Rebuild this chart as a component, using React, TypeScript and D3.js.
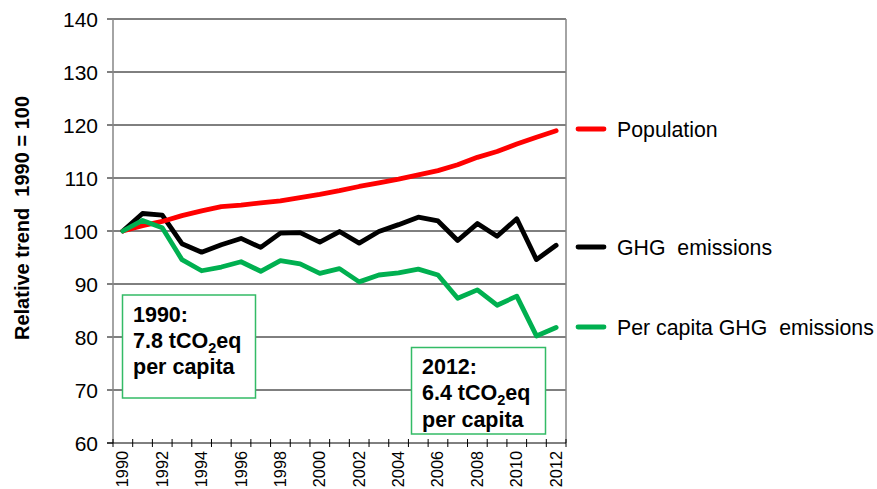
import React from "react";
import * as d3 from "d3";

const years = ["1990","1991","1992","1993","1994","1995","1996","1997","1998","1999","2000","2001","2002","2003","2004","2005","2006","2007","2008","2009","2010","2011","2012"];
const yearLabels = ["1990","","1992","","1994","","1996","","1998","","2000","","2002","","2004","","2006","","2008","","2010","","2012"];
const population = [100, 101.0, 101.8, 102.9, 103.8, 104.6, 104.9, 105.3, 105.7, 106.3, 106.9, 107.6, 108.4, 109.1, 109.8, 110.6, 111.4, 112.5, 113.9, 115.0, 116.4, 117.7, 118.9];
const ghg = [100, 103.3, 103.0, 97.6, 96.0, 97.4, 98.6, 96.9, 99.6, 99.7, 97.9, 99.9, 97.7, 99.9, 101.2, 102.6, 101.9, 98.2, 101.4, 99.0, 102.3, 94.6, 97.3];
const perCapita = [100, 102.0, 100.6, 94.6, 92.5, 93.2, 94.2, 92.4, 94.4, 93.8, 92.0, 92.9, 90.4, 91.7, 92.1, 92.8, 91.7, 87.3, 88.9, 86.0, 87.7, 80.2, 81.8];
const yTicks = [60, 70, 80, 90, 100, 110, 120, 130, 140];
const seriesNames = ["Population", "GHG  emissions", "Per capita GHG  emissions"];
const seriesColors = ["#ff0000", "#000000", "#00b050"];
const yTitle = "Relative trend  1990 = 100";

const FONT = "Arial, 'Liberation Sans', sans-serif";

export default function App() {
  const W = 877, H = 489;
  const left = 113, right = 566, top = 19, bottom = 443;
  const x = d3.scaleBand<string>().domain(years).range([left, right]).padding(0);
  const y = d3.scaleLinear().domain([60, 140]).range([bottom, top]);
  const cx = (i: number) => (x(years[i]) as number) + x.bandwidth() / 2;
  const line = d3.line<number>().x((_, i) => cx(i)).y((d) => y(d));
  const series = [population, ghg, perCapita];
  const drawOrder = [1, 0, 2];
  const legendPos = [129, 247, 327];
  const boundaries = d3.range(years.length + 1).map((i) => left + i * x.bandwidth());

  return (
    <svg width={W} height={H} style={{ display: "block", position: "absolute", left: 0, top: 0 }} fontFamily={FONT}>
      <rect width={W} height={H} fill="#fff" />
      {yTicks.filter((t) => t > 60).map((t) => (
        <line key={t} x1={left} x2={right} y1={y(t)} y2={y(t)} stroke="#000" strokeWidth={1} />
      ))}
      {yTicks.map((t) => (
        <g key={"yt" + t}>
          <line x1={left - 6} x2={left} y1={y(t)} y2={y(t)} stroke="#000" strokeWidth={1} />
          <text x={left - 15} y={y(t)} dy="0.36em" textAnchor="end" fontSize={21} fill="#000">{t}</text>
        </g>
      ))}
      <line x1={left} x2={left} y1={top} y2={bottom} stroke="#868686" strokeWidth={1.5} />
      <line x1={right} x2={right} y1={top} y2={bottom} stroke="#868686" strokeWidth={1.5} />
      <line x1={left - 6} x2={right} y1={bottom} y2={bottom} stroke="#000" strokeWidth={1} />
      {boundaries.map((b, i) => (
        <line key={"xt" + i} x1={b} x2={b} y1={bottom - 4} y2={bottom + 4} stroke="#000" strokeWidth={1} />
      ))}
      {yearLabels.map((yr, i) => yr ? (
        <text key={yr} transform={`translate(${cx(i) + 5.5},${bottom + 8}) rotate(-90)`} textAnchor="end" fontSize={16.3} fill="#000">{yr}</text>
      ) : null)}
      <text transform={`translate(29,218) rotate(-90)`} textAnchor="middle" fontSize={20} fontWeight="bold" fill="#000" style={{ whiteSpace: "pre" }}>{yTitle}</text>
      {drawOrder.map((k) => (
        <path key={"s" + k} d={line(series[k]) || ""} fill="none" stroke={seriesColors[k]} strokeWidth={4.8} strokeLinejoin="round" strokeLinecap="round" />
      ))}
      {seriesNames.map((n, k) => (
        <g key={n}>
          <line x1={578} x2={604} y1={legendPos[k]} y2={legendPos[k]} stroke={seriesColors[k]} strokeWidth={4.8} strokeLinecap="round" />
          <text x={617} y={legendPos[k]} dy="0.36em" fontSize={21.3} fill="#000" style={{ whiteSpace: "pre" }}>{n}</text>
        </g>
      ))}
      <g>
        <rect x={122.5} y={295} width={133} height={103} fill="#fff" stroke="#33bb66" strokeWidth={1.5} />
        <text x={133} y={321.5} fontSize={21.5} fontWeight="bold" fill="#000">1990:</text>
        <text x={133} y={348} fontSize={21.5} fontWeight="bold" fill="#000">7.8 tCO<tspan fontSize={14.5} dy={5}>2</tspan><tspan dy={-5}>eq</tspan></text>
        <text x={133} y={374} fontSize={21.5} fontWeight="bold" fill="#000">per capita</text>
      </g>
      <g>
        <rect x={411.5} y={347.5} width={134} height={86.5} fill="#fff" stroke="#33bb66" strokeWidth={1.5} />
        <text x={422} y={374} fontSize={21.5} fontWeight="bold" fill="#000">2012:</text>
        <text x={422} y={400} fontSize={21.5} fontWeight="bold" fill="#000">6.4 tCO<tspan fontSize={14.5} dy={5}>2</tspan><tspan dy={-5}>eq</tspan></text>
        <text x={422} y={426.5} fontSize={21.5} fontWeight="bold" fill="#000">per capita</text>
      </g>
    </svg>
  );
}
